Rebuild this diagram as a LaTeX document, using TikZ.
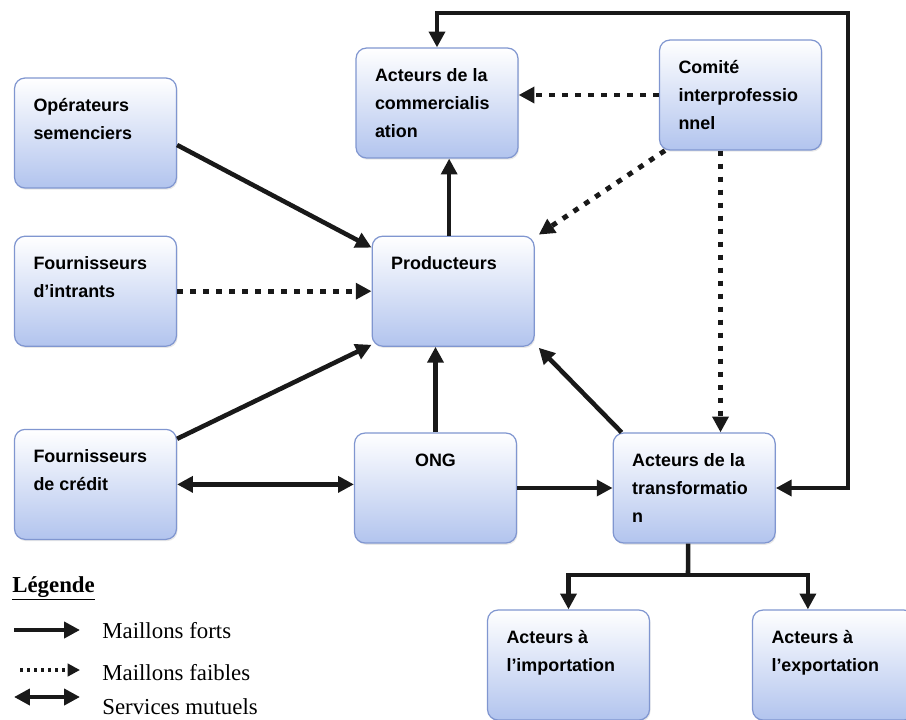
\documentclass[tikz,border=0pt]{standalone}
\usepackage{fontspec}
\setmainfont{Liberation Serif}
\setsansfont{Liberation Sans}
\usetikzlibrary{positioning, arrows.meta, calc, shadows}

\definecolor{bordbleu}{RGB}{128,150,208}
\definecolor{fondbleu}{RGB}{178,196,238}
\definecolor{trait}{RGB}{25,25,25}

\newcommand{\boite}[1]{\parbox[c][2.2cm][t]{2.48cm}{\raggedright\rule{0pt}{18.8pt}#1}}

\begin{document}
\begin{tikzpicture}[x=0.02cm,y=-0.02cm,>={Triangle[length=9pt,width=9pt]},line join=miter]

	\tikzstyle{every node}=[font=\sffamily\bfseries\fontsize{10.2pt}{16pt}\selectfont]
	\tikzstyle{acteur}=[rectangle,rounded corners=6pt,draw=bordbleu,line width=0.7pt,top color=white,bottom color=fondbleu,inner xsep=0.38cm,inner ysep=0pt,drop shadow={opacity=0.18,shadow xshift=0.6pt,shadow yshift=-1pt}]
	\tikzstyle{fort}=[->,color=trait,line width=2.6pt]
	\tikzstyle{faible}=[->,color=trait,line width=2.8pt,dash pattern=on 3.2pt off 4.2pt]
	\tikzstyle{legende}=[font=\rmfamily\fontsize{13pt}{15pt}\selectfont,inner sep=0pt]

	\useasboundingbox (0,0) rectangle (906,720);

	% acteurs de la filiere
	\node[acteur] (OS) at (95.5,133) {\boite{Opérateurs\\semenciers}};
	\node[acteur] (FI) [below=0.94cm of OS] {\boite{Fournisseurs\\d’intrants}};
	\node[acteur] (FC) [below=1.64cm of FI] {\boite{Fournisseurs\\de crédit}};
	\node[acteur] (P)  [right=3.89cm of FI] {\boite{Producteurs}};
	\node[acteur] (CM) at (437,103) {\boite{Acteurs de la\\commercialis\\ation}};
	\node[acteur] (C)  at (740.5,95) {\boite{Comité\\interprofessio\\nnel}};
	\node[acteur] (ONG) at (435.5,488) {\parbox[c][2.2cm][t]{2.48cm}{\centering\rule{0pt}{18.8pt}ONG}};
	\node[acteur] (T)  [right=1.91cm of ONG] {\boite{Acteurs de la\\transformatio\\n}};
	\node[acteur] (IM) at (568.5,665) {\boite{Acteurs à\\l’importation}};
	\node[acteur] (EX) at (833.5,665) {\boite{Acteurs à\\l’exportation}};

	\coordinate (coin) at (848,13);
	\coordinate (emb) at (688,575);
	\coordinate (Pn) at ($(P.north)+(-4,0)$);
	\coordinate (Cs) at ($(C.south)+(-20,0)$);

	% maillons forts
	\draw[fort] ($(OS.east)+(0,12)$) -- ($(P.north west)+(0,12)$);
	\draw[fort] ($(FC.north east)+(0,10)$) -- ($(P.south west)+(0,-2)$);
	\draw[fort] (ONG.north) -- (ONG.north |- P.south);
	\draw[fort] (Pn) -- (Pn |- CM.south);
	\draw[fort] ($(T.north west)+(9,0)$) -- ($(P.south east)+(4,1)$);
	\draw[fort] (ONG.east) -- (ONG.east -| T.west);
	\draw[fort,<->] (FC.east) -- (FC.east -| ONG.west);
	\draw[fort,<->] (CM.north) |- (coin) |- (T.east);
	\draw[fort,-] ($(T.south)+(-6,0)$) -- (emb);
	\draw[fort] (emb) -| (IM.north);
	\draw[fort] (emb) -| ($(EX.north west)+(56,0)$);

	% maillons faibles
	\draw[faible] (FI.east) -- (P.west);
	\draw[faible] (C.west) -- (C.west -| CM.east);
	\draw[faible] ($(C.south west)+(6,0)$) -- ($(P.north east)+(4,-1)$);
	\draw[faible] (Cs) -- (Cs |- T.north);

	% legende
	\node[legende,anchor=base west] (leg) at (12,592) {\underline{\textbf{Légende}}};
	\coordinate (l1a) at (14,630);
	\coordinate (l1b) at (80,630);
	\coordinate (l2a) at (20,670);
	\coordinate (l2b) at (80,670);
	\coordinate (l3a) at (14,697);
	\coordinate (l3b) at (80,697);
	\draw[fort] (l1a) -- (l1b);
	\draw[->,color=trait,line width=2pt,dash pattern=on 1.8pt off 2.2pt,>={Triangle[length=7pt,width=7pt]}] (l2a) -- (l2b);
	\draw[fort,<->] (l3a) -- (l3b);
	\node[legende,anchor=base west] (lt1) at (102,638) {Maillons forts};
	\node[legende,anchor=base west] (lt2) at (102,680) {Maillons faibles};
	\node[legende,anchor=base west] (lt3) at (102,714) {Services mutuels};

\end{tikzpicture}
\end{document}
